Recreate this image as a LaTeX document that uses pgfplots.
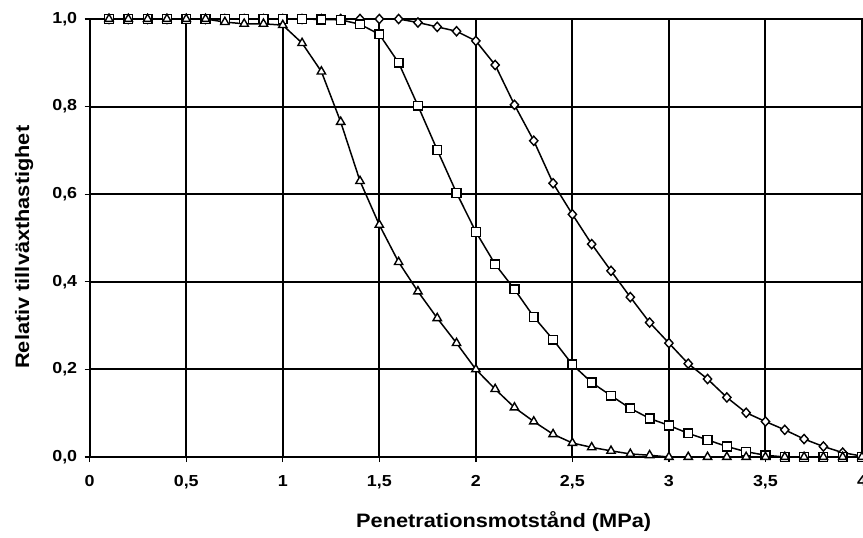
\documentclass[border=0pt]{standalone}
\usepackage{pgfplots}
\pgfplotsset{compat=1.18}
\usepackage{fontspec}
\setmainfont{Liberation Sans}[FakeStretch=1.12]

% relative growth rate vs. penetration resistance, three curves
\pgfplotstableread{
x    y
0.1  1.000
0.2  1.000
0.3  1.000
0.4  1.000
0.5  1.000
0.6  1.000
0.7  1.000
0.8  1.000
0.9  1.000
1.0  1.000
1.1  1.000
1.2  1.000
1.3  1.000
1.4  1.000
1.5  1.000
1.6  1.000
1.7  0.992
1.8  0.982
1.9  0.972
2.0  0.950
2.1  0.895
2.2  0.804
2.3  0.722
2.4  0.625
2.5  0.554
2.6  0.486
2.7  0.425
2.8  0.365
2.9  0.307
3.0  0.260
3.1  0.213
3.2  0.178
3.3  0.136
3.4  0.101
3.5  0.081
3.6  0.062
3.7  0.041
3.8  0.024
3.9  0.010
4.0  0.002
}\diamonddata

\pgfplotstableread{
x    y
0.1  1.000
0.2  1.000
0.3  1.000
0.4  1.000
0.5  1.000
0.6  1.000
0.7  1.000
0.8  1.000
0.9  1.000
1.0  1.000
1.1  1.000
1.2  0.999
1.3  0.998
1.4  0.988
1.5  0.965
1.6  0.900
1.7  0.802
1.8  0.701
1.9  0.603
2.0  0.514
2.1  0.440
2.2  0.383
2.3  0.320
2.4  0.268
2.5  0.211
2.6  0.170
2.7  0.140
2.8  0.111
2.9  0.088
3.0  0.072
3.1  0.054
3.2  0.039
3.3  0.024
3.4  0.012
3.5  0.004
3.6  0.000
3.7  0.000
3.8  0.000
3.9  0.000
4.0  0.000
}\squaredata

\pgfplotstableread{
x    y
0.1  1.000
0.2  1.000
0.3  1.000
0.4  1.000
0.5  1.000
0.6  1.000
0.7  0.993
0.8  0.989
0.9  0.989
1.0  0.986
1.1  0.945
1.2  0.880
1.3  0.765
1.4  0.630
1.5  0.530
1.6  0.445
1.7  0.378
1.8  0.317
1.9  0.260
2.0  0.200
2.1  0.155
2.2  0.113
2.3  0.081
2.4  0.052
2.5  0.032
2.6  0.022
2.7  0.014
2.8  0.007
2.9  0.004
3.0  0.000
3.1  0.000
3.2  0.000
3.3  0.000
3.4  0.000
3.5  0.000
3.6  0.000
3.7  0.000
3.8  0.000
3.9  0.000
4.0  0.000
}\triangledata

\begin{document}
\begin{tikzpicture}
\begin{axis}[
  name=ax, at={(0,0)}, anchor=south west,
  scale only axis,
  width=772.3bp, height=438bp,
  xmin=0, xmax=4, ymin=0, ymax=1,
  xtick={0,0.5,...,4}, ytick={0,0.2,...,1},
  grid=major,
  major grid style={black, line width=2bp},
  axis line style={black, line width=2bp},
  tick align=outside,
  xtick pos=bottom, ytick pos=left,
  major tick length=5bp,
  tick style={black, line width=1.3bp},
  /pgf/number format/assume math mode=true,
  /pgf/number format/use comma,
  xticklabel style={font=\bfseries\fontsize{16}{18}\selectfont, yshift=-10bp},
  yticklabel style={font=\bfseries\fontsize{16}{18}\selectfont, xshift=-4bp,
    /pgf/number format/fixed, /pgf/number format/fixed zerofill,
    /pgf/number format/precision=1},
  xlabel={Penetrationsmotstånd (MPa)},
  ylabel={Relativ tillväxthastighet},
  label style={font=\bfseries\fontsize{19.5}{22}\selectfont},
  xlabel style={at={(axis description cs:0.536,-0.148)}, anchor=center},
  ylabel style={at={(axis description cs:-0.085,0.479)}, anchor=center, rotate=0},
  every axis plot/.append style={black, line width=1.5bp},
  clip=false,
]
\addplot[mark=diamond*, mark size=4.6bp,
  mark options={fill=white, line width=1.4bp, xscale=1.2}] table[x=x,y=y] {\diamonddata};
\addplot[mark=square*, mark size=4.4bp,
  mark options={fill=white, line width=1.4bp}] table[x=x,y=y] {\squaredata};
\addplot[mark=triangle*, mark size=4.8bp,
  mark options={fill=white, line width=1.4bp}] table[x=x,y=y] {\triangledata};
\end{axis}
\pgfresetboundingbox
\path[use as bounding box] (-89.7bp,-81bp) rectangle (773.3bp,457bp);
\end{tikzpicture}
\end{document}
